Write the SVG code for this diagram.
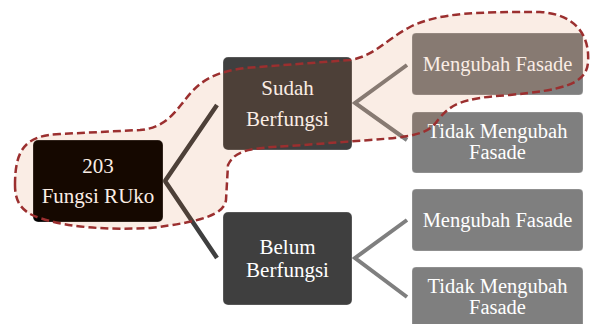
<svg xmlns="http://www.w3.org/2000/svg" width="590" height="324" viewBox="0 0 590 324">
<style>
  .box { stroke: #ffffff; stroke-opacity: 0.25; stroke-width: 1; }
  .t { font-family: "Liberation Serif", "Times New Roman", serif; fill: #ffffff; text-anchor: middle; }
  .l { font-size: 21px; }
  .r { font-size: 20.5px; }
  .conn { fill: none; stroke-linejoin: miter; stroke-miterlimit: 10; }
</style>
<rect width="590" height="324" fill="#ffffff"/>
<g id="connectors">
  <polyline class="conn" points="217,105 165,181 217,258" stroke="#3f3f3f" stroke-width="4.5"/>
  <polyline class="conn" points="407,65 355,103 407,140" stroke="#7f7f7f" stroke-width="4"/>
  <polyline class="conn" points="407,220 355,258 407,297" stroke="#7f7f7f" stroke-width="4"/>
</g>
<g id="root">
  <rect class="box" x="33" y="140" width="130" height="82" rx="5" fill="#000000"/>
  <text class="t l" x="98" y="173">203</text>
  <text class="t l" x="98" y="203">Fungsi RUko</text>
</g>
<g id="sudah">
  <rect class="box" x="223" y="57" width="129" height="93" rx="5" fill="#3f3f3f"/>
  <text class="t l" x="287.5" y="95">Sudah</text>
  <text class="t l" x="287.5" y="126">Berfungsi</text>
</g>
<g id="belum">
  <rect class="box" x="223" y="212" width="129" height="93" rx="5" fill="#3f3f3f"/>
  <text class="t l" x="287.5" y="253.5">Belum</text>
  <text class="t l" x="287.5" y="277">Berfungsi</text>
</g>
<g id="sudah-mengubah">
  <rect class="box" x="412" y="33" width="171" height="62" rx="4" fill="#7f7f7f"/>
  <text class="t r" x="497.5" y="71">Mengubah Fasade</text>
</g>
<g id="sudah-tidak">
  <rect class="box" x="412" y="112" width="171" height="61" rx="4" fill="#7f7f7f"/>
  <text class="t r" x="497.5" y="138">Tidak Mengubah</text>
  <text class="t r" x="497.5" y="159">Fasade</text>
</g>
<g id="belum-mengubah">
  <rect class="box" x="412" y="189" width="171" height="62" rx="4" fill="#7f7f7f"/>
  <text class="t r" x="497.5" y="227">Mengubah Fasade</text>
</g>
<g id="belum-tidak">
  <rect class="box" x="412" y="267" width="171" height="62" rx="4" fill="#7f7f7f"/>
  <text class="t r" x="497.5" y="293">Tidak Mengubah</text>
  <text class="t r" x="497.5" y="314">Fasade</text>
</g>
<g id="highlight">
  <path d="M 15,185 C 15,150 25,135 60,134 L 140,130 C 165,128 175,112 185,100 C 200,80 215,72 245,68 L 350,60 C 375,56 385,40 410,27 C 440,12 480,12 540,12 C 575,14 590,35 588,62 C 587,85 560,90 510,95 C 460,98 450,105 438,120 C 428,135 410,137 370,140 L 290,146 C 250,148 235,150 228,165 L 226,200 C 224,215 200,222 150,228 C 110,230 70,228 40,218 C 20,212 15,200 15,185 Z" fill="#d25000" fill-opacity="0.1" stroke="#9b2f2f" stroke-width="2.5" stroke-dasharray="8 4"/>
</g>
</svg>
